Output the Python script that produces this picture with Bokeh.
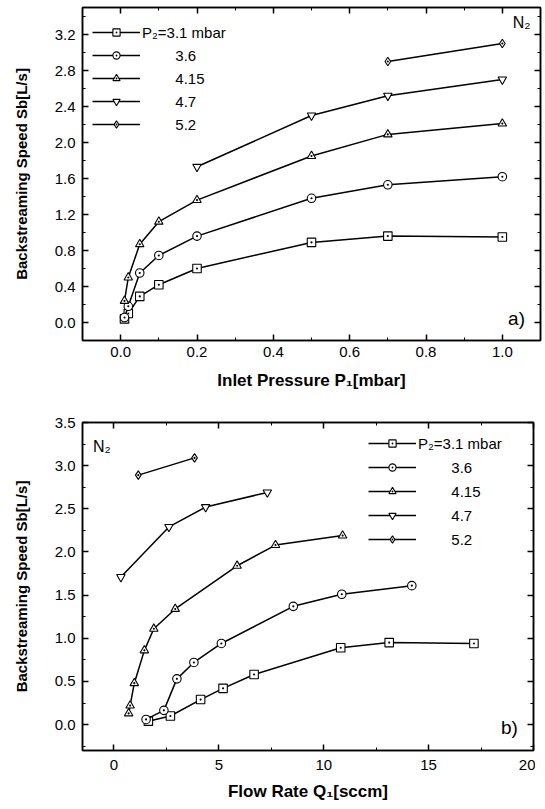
from bokeh.plotting import figure
from bokeh.models import (LinearAxis, SingleIntervalTicker, PrintfTickFormatter,
                          Legend, LegendItem, Label, Range1d)
from bokeh.layouts import column
from bokeh.embed import file_html
from bokeh.resources import INLINE

# ---------------- data ----------------
pad = "\u2007\u2007\u2007\u2008\u2008"
series_labels = ["P\u2082=3.1 mbar", pad + "3.6", pad + "4.15", pad + "4.7", pad + "5.2"]
markers = ["square_dot", "circle_dot", "triangle_dot", "inverted_triangle", "diamond_dot"]

# panel a) : inlet pressure P1 [mbar]
p1_31 = [0.01, 0.02, 0.05, 0.1, 0.2, 0.5, 0.7, 1.0]
sa_31 = [0.04, 0.10, 0.29, 0.42, 0.60, 0.89, 0.96, 0.95]
p1_36 = [0.01, 0.02, 0.05, 0.1, 0.2, 0.5, 0.7, 1.0]
sa_36 = [0.055, 0.18, 0.55, 0.745, 0.96, 1.38, 1.53, 1.62]
p1_415 = [0.01, 0.02, 0.05, 0.1, 0.2, 0.5, 0.7, 1.0]
sa_415 = [0.24, 0.50, 0.87, 1.12, 1.36, 1.85, 2.09, 2.21]
p1_47 = [0.2, 0.5, 0.7, 1.0]
sa_47 = [1.73, 2.30, 2.52, 2.70]
p1_52 = [0.7, 1.0]
sa_52 = [2.90, 3.10]

# panel b) : flow rate Q1 [sccm]
q1_31 = [1.64, 2.69, 4.13, 5.20, 6.68, 10.81, 13.12, 17.16]
sb_31 = [0.04, 0.10, 0.29, 0.42, 0.58, 0.89, 0.95, 0.94]
q1_36 = [1.53, 2.38, 3.00, 3.81, 5.12, 8.55, 10.86, 14.20]
sb_36 = [0.06, 0.165, 0.53, 0.72, 0.94, 1.37, 1.51, 1.61]
q1_415 = [0.70, 0.77, 0.97, 1.45, 1.90, 2.92, 5.87, 7.70, 10.90]
sb_415 = [0.13, 0.22, 0.48, 0.86, 1.11, 1.34, 1.84, 2.08, 2.19]
q1_47 = [0.33, 2.62, 4.37, 7.31]
sb_47 = [1.71, 2.29, 2.52, 2.69]
q1_52 = [1.16, 3.84]
sb_52 = [2.89, 3.09]

FONT = "Liberation Sans"


def style_axis(ax, interval, fmt, labels=True, standoff=7):
    ax.ticker = SingleIntervalTicker(interval=interval, num_minor_ticks=2)
    ax.formatter = PrintfTickFormatter(format=fmt)
    ax.axis_line_color = "black"
    ax.axis_line_width = 1.5
    ax.major_tick_in = 6
    ax.major_tick_out = 0
    ax.minor_tick_in = 3
    ax.minor_tick_out = 0
    ax.major_tick_line_color = "black"
    ax.minor_tick_line_color = "black"
    ax.major_tick_line_width = 1.5
    ax.minor_tick_line_width = 1
    ax.major_label_text_font = FONT
    if labels:
        ax.major_label_text_color = "black"
        ax.major_label_text_font_size = "15px"
        ax.major_label_standoff = standoff
    else:
        ax.major_label_text_color = None
        ax.major_label_text_font_size = "1px"
        ax.major_label_standoff = 0
    ax.axis_label_text_font = FONT
    ax.axis_label_text_font_style = "bold"
    ax.axis_label_text_color = "black"


def make_panel(xr, yr, xint, yint, xfmt, yfmt, xlabel, ylabel, fw, fh,
               bl, bt, bb, xstand, xlstand, series, legend_loc, legend_spacing):
    p = figure(frame_width=fw, frame_height=fh, x_range=Range1d(*xr), y_range=Range1d(*yr),
               output_backend="svg", toolbar_location=None,
               min_border_left=bl, min_border_top=bt, min_border_bottom=bb, min_border_right=3)
    p.xgrid.visible = False
    p.ygrid.visible = False
    p.outline_line_color = "black"
    p.outline_line_width = 1.5
    p.background_fill_color = "white"
    p.border_fill_color = "white"

    xa = p.xaxis[0]
    ya = p.yaxis[0]
    style_axis(xa, xint, xfmt, True, standoff=xstand)
    style_axis(ya, yint, yfmt, True, standoff=7)
    xa.axis_label = xlabel
    xa.axis_label_text_font_size = "17px"
    xa.axis_label_standoff = xlstand
    ya.axis_label = ylabel
    ya.axis_label_text_font_size = "15px"
    ya.axis_label_standoff = 22

    top = LinearAxis()
    style_axis(top, xint, xfmt, False)
    p.add_layout(top, "above")
    right = LinearAxis()
    style_axis(right, yint, yfmt, False)
    p.add_layout(right, "right")

    items = []
    for (xs, ys), lab, mk in zip(series, series_labels, markers):
        ln = p.line(xs, ys, line_color="black", line_width=1.5)
        sc = p.scatter(xs, ys, marker=mk, size=8.5, line_color="black", line_width=1.1,
                       fill_color="white")
        items.append(LegendItem(label=lab, renderers=[ln, sc]))
    leg = Legend(items=items, location=legend_loc, glyph_width=48, glyph_height=18,
                 label_height=18, spacing=legend_spacing, padding=0, margin=0,
                 label_standoff=2, label_text_font=FONT, label_text_font_size="15px",
                 label_text_color="black", border_line_color=None,
                 background_fill_alpha=0)
    p.add_layout(leg)
    return p


pa = make_panel((-0.1, 1.1), (-0.2, 3.5), 0.2, 0.4, "%.1f", "%.1f",
                "Inlet Pressure P\u2081[mbar]", "Backstreaming Speed Sb[L/s]",
                458, 333, 82, 7, 62, 6, 11,
                [(p1_31, sa_31), (p1_36, sa_36), (p1_415, sa_415), (p1_47, sa_47), (p1_52, sa_52)],
                (10, 207), 5)
pa.add_layout(Label(x=1.027, y=3.33, text="N\u2082", text_font=FONT, text_font_size="16px",
                    text_baseline="middle", text_color="black"))
pa.add_layout(Label(x=1.015, y=0.04, text="a)", text_font=FONT, text_font_size="19px",
                    text_baseline="middle", text_color="black"))

pb = make_panel((-1.5, 20), (-0.3, 3.5), 5, 0.5, "%d", "%.1f",
                "Flow Rate Q\u2081[sccm]", "Backstreaming Speed Sb[L/s]",
                451, 328, 81, 20, 55, 9, 9,
                [(q1_31, sb_31), (q1_36, sb_36), (q1_415, sb_415), (q1_47, sb_47), (q1_52, sb_52)],
                (286, 202), 6)
pb.add_layout(Label(x=-1.0, y=3.22, text="N\u2082", text_font=FONT, text_font_size="16px",
                    text_baseline="middle", text_color="black"))
pb.add_layout(Label(x=18.45, y=-0.03, text="b)", text_font=FONT, text_font_size="19px",
                    text_baseline="middle", text_color="black"))

layout = column(pa, pb, spacing=0)
open("out.html", "w").write(file_html(layout, INLINE))
